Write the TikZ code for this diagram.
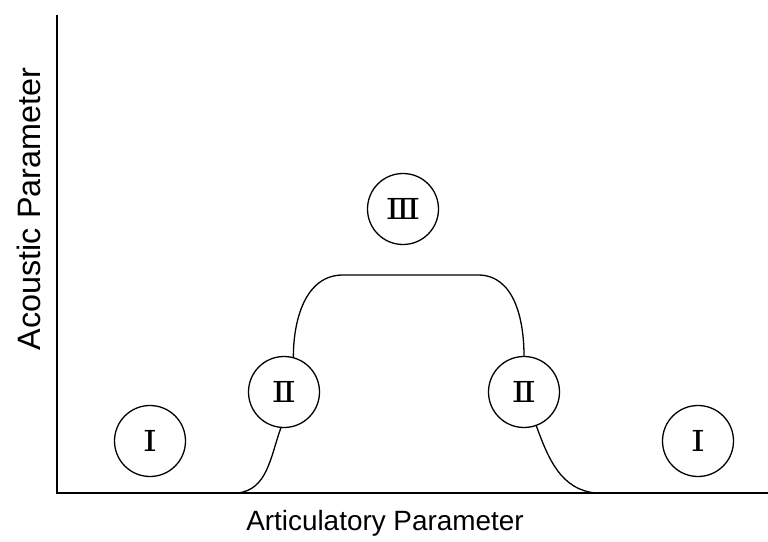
\documentclass[tikz,border=0pt]{standalone}
\usepackage{fontspec}
\setmainfont{Liberation Sans}
\newfontfamily\numfont[FakeStretch=1.25]{DejaVu Serif}
\usetikzlibrary{arrows}
\usetikzlibrary{shapes}
\begin{document}
\begin{tikzpicture}[x=1bp,y=-1bp]
            \tikzstyle{zone node}=[draw,circle,line width=1.3pt,minimum size=71bp,inner sep=0pt,align=center,font=\numfont\fontsize{29}{29}\selectfont]
            \tikzstyle{axis label}=[font=\fontsize{28}{28}\selectfont]
            \useasboundingbox (0,0) rectangle (768,542);

            \coordinate (O) at (57,493);
            \coordinate (Ytop) at (57,15);
            \coordinate (Xend) at (768,493);
            \coordinate (Rise) at (237,493);
            \coordinate (Fall) at (596,493);
            \coordinate (TopL) at (343,275);
            \coordinate (TopR) at (478,275);

            \node[zone node] (IL) at (150,441) {Ⅰ};
            \node[zone node] (IIL) at (284,392) {Ⅱ};
            \node[zone node] (III) at (403,209) {Ⅲ};
            \node[zone node] (IIR) at (524,392) {Ⅱ};
            \node[zone node] (IR) at (698,441) {Ⅰ};

            \node[axis label,rotate=90,font=\fontsize{32.5}{32.5}\selectfont] (ylab) at (29,209) {Acoustic Parameter};
            \node[axis label] (xlab) at (385,523) {Articulatory Parameter};

            \draw[line width=1.3pt]
                (Ytop) -- (O) -- (Xend);
            \draw[line width=1.3pt]
                (Rise) to[out=5,in=-110] (IIL.-95)
                (IIL.75) to[out=90,in=180] (TopL) -- (TopR) to[out=0,in=90] (IIR.90)
                (IIR.-70) to[out=-70,in=175] (Fall);
        \end{tikzpicture}
\end{document}
